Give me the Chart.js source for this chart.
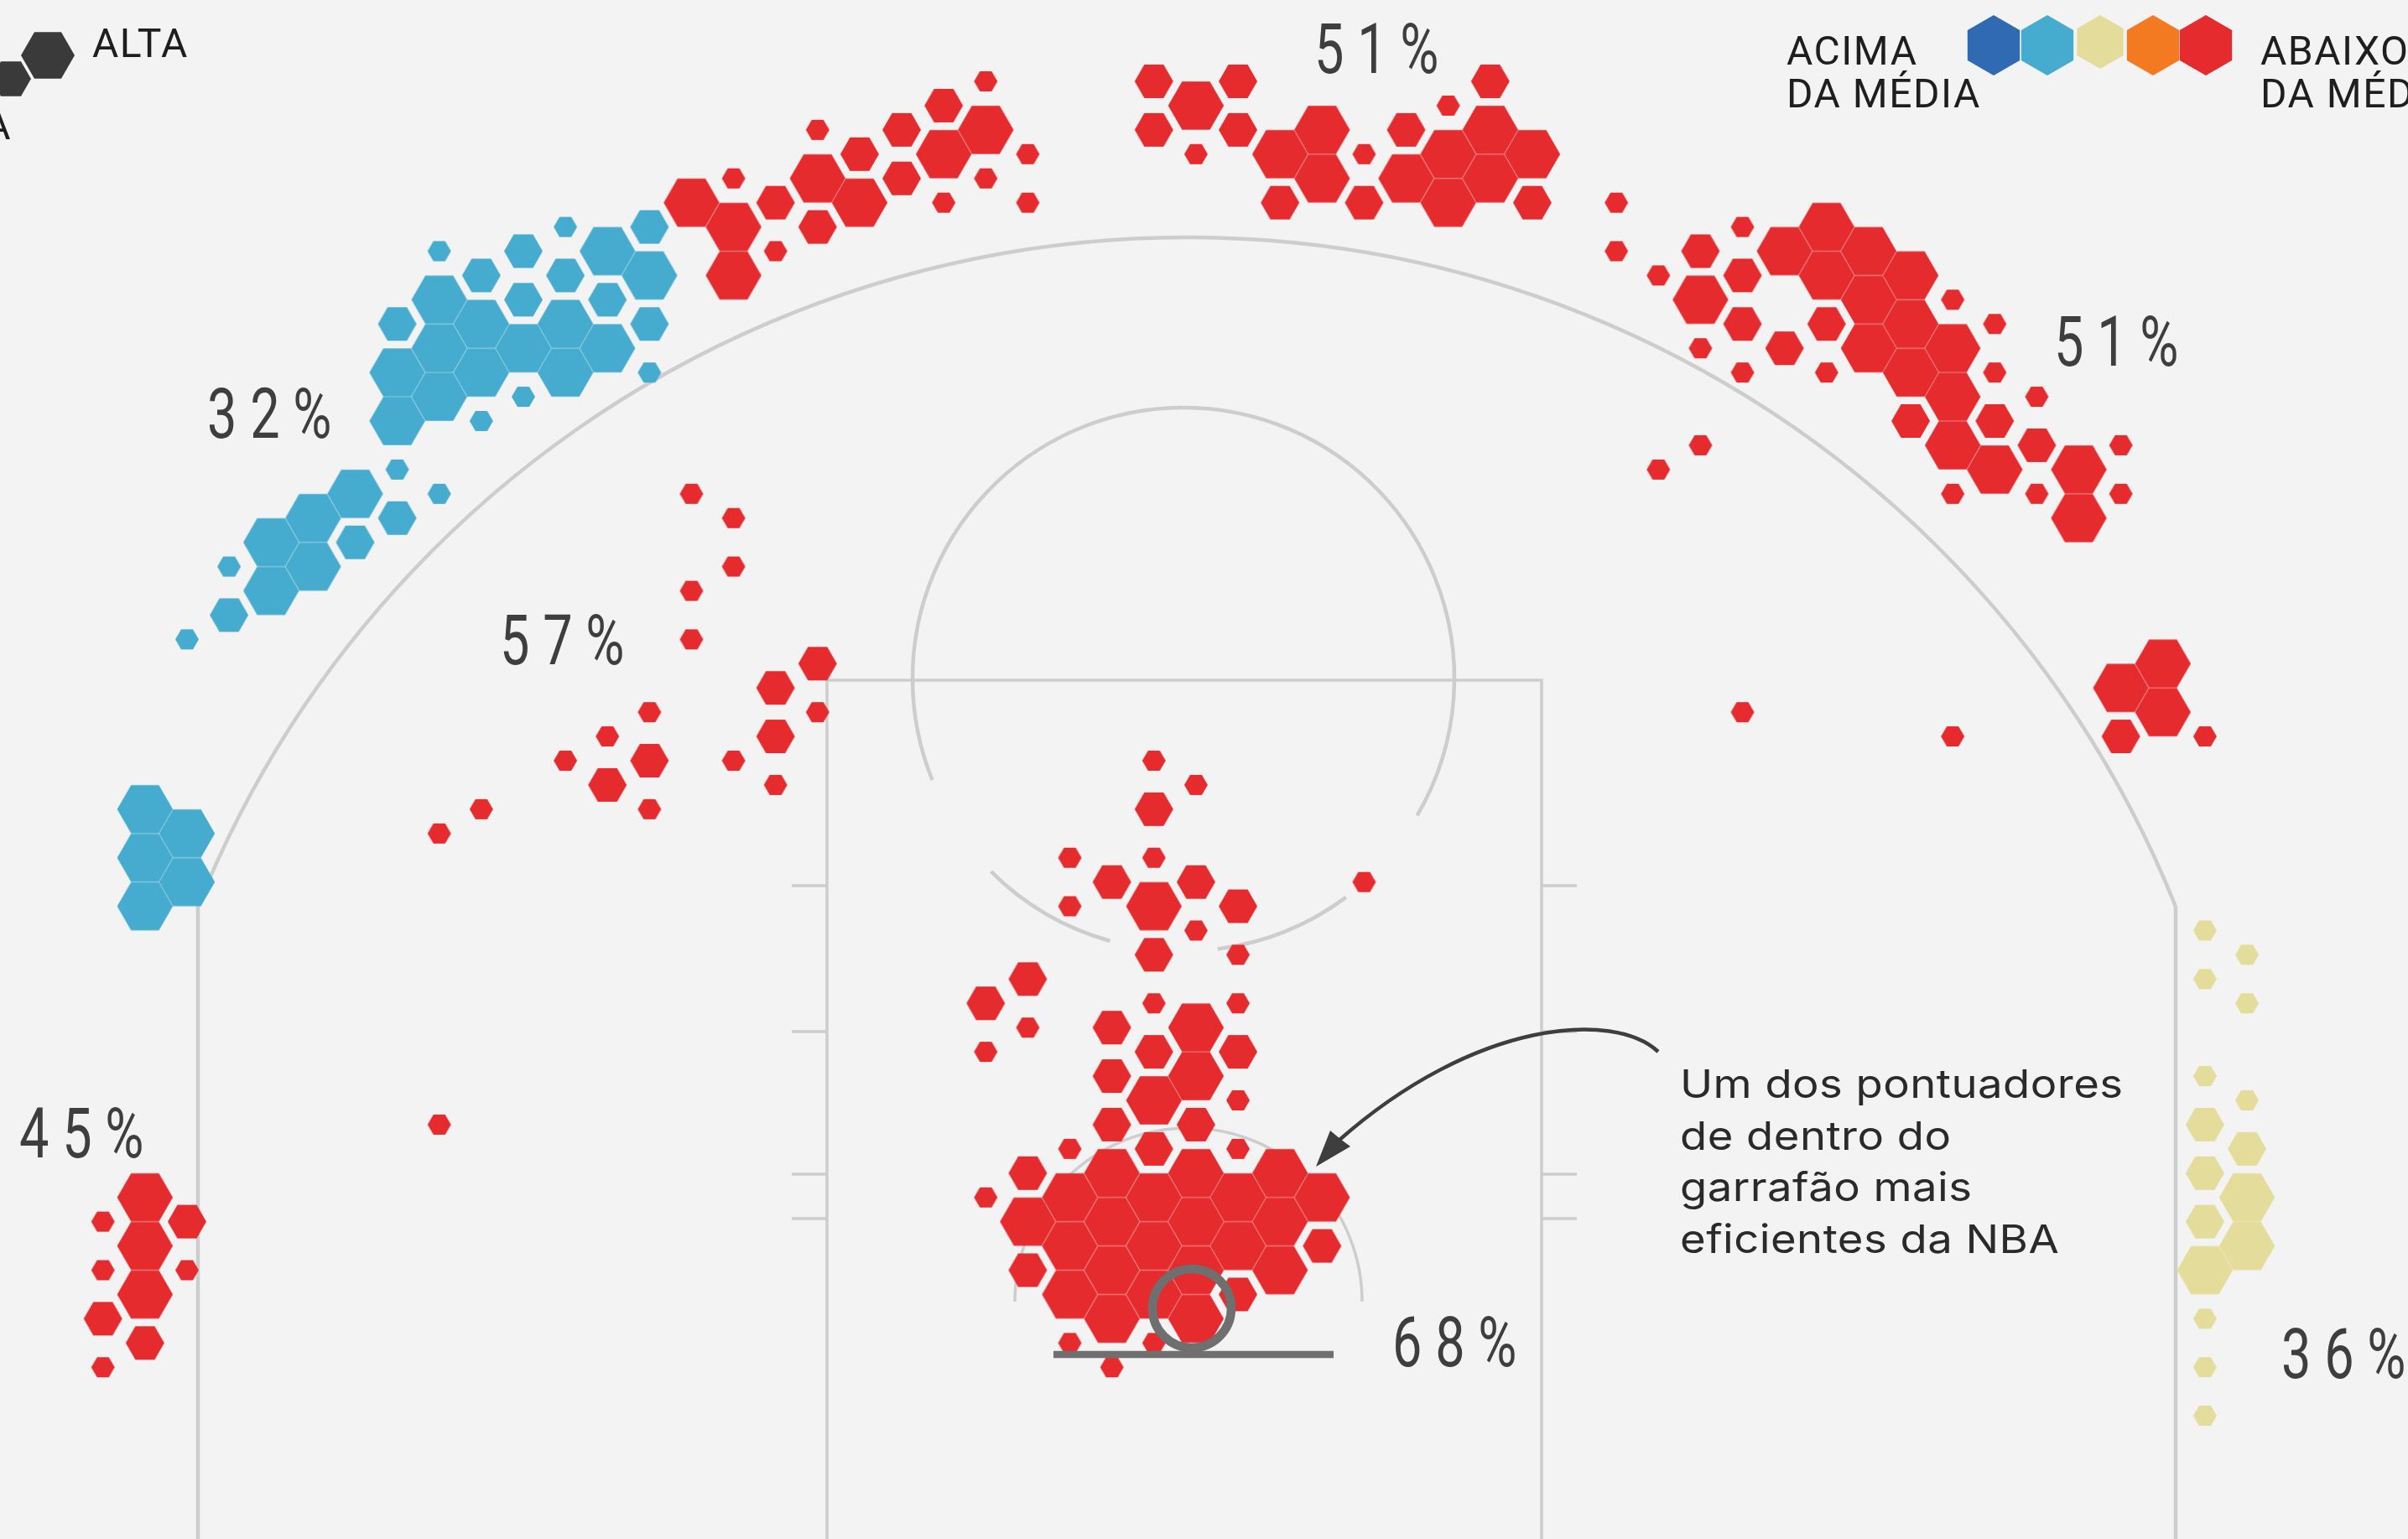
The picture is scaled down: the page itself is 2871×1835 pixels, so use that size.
<!DOCTYPE html>
<html>
<head>
<meta charset="utf-8">
<title>Mapa de arremessos</title>
<style>
  html, body { margin: 0; padding: 0; background: #f3f3f3; overflow: hidden; }
  canvas { display: block; }
</style>
<script src="https://cdn.jsdelivr.net/npm/chart.js@4"></script>
</head>
<body>
<canvas id="shots" width="2871" height="1835"></canvas>
<script>
// ── Data: hexbin column, hexbin row, shot frequency (1 low – 3 high) ──
const redCols = [
  1, 2, 0, 1, 0, 2, 1, 0, 1, 0,
  8, 8, 9,
  14, 15, 15, 14, 14, 17, 16, 17, 16, 15, 16, 13, 12, 11, 13, 12, 13,
  14, 15, 15, 15, 16, 16, 17, 17, 17, 18, 18, 19, 19, 20, 20, 20, 21, 21, 21, 22, 22,
  25, 27, 26, 25, 27, 26, 28, 29, 29, 28, 30, 30, 31, 31, 32, 32, 32, 33, 33, 33, 34, 34,
  36, 36, 37, 38, 38, 39, 39, 39, 38, 39, 40, 40, 41, 41, 41, 41, 42, 42, 42, 43, 43, 43, 43,
  44, 44, 44, 44, 44, 45, 45, 45, 45, 46, 46, 46, 47, 47, 48, 48, 38, 37,
  49, 48, 49, 48, 50, 39, 44,
  25, 26, 25, 23, 25, 24, 26, 23, 25, 27, 26, 25, 27, 30,
  22, 21, 22, 21, 25, 27, 26, 24, 25, 27, 24, 26, 25, 27, 24, 26,
  25, 23, 27, 22, 24, 26, 28, 21, 23, 25, 27, 29, 22, 24, 26, 28,
  23, 25, 27, 29, 22, 24, 26, 28, 23, 25, 27, 24, 26, 23, 25, 24
];
const redRows = [
  46, 47, 47, 48, 49, 49, 50, 51, 52, 53,
  43, 31, 30,
  17, 18, 20, 21, 23, 24, 25, 26, 27, 28, 29, 26, 27, 28, 28, 29, 30,
  5, 4, 6, 8, 5, 7, 2, 4, 6, 3, 5, 2, 4, 1, 3, 5, 0, 2, 4, 3, 5,
  0, 0, 1, 2, 2, 3, 3, 2, 4, 5, 3, 5, 2, 4, 1, 3, 5, 0, 2, 4, 3, 5,
  5, 7, 8, 7, 9, 6, 8, 10, 11, 12, 7, 11, 6, 8, 10, 12, 7, 9, 11, 8, 10, 12, 14,
  9, 11, 13, 15, 17, 10, 12, 14, 16, 13, 15, 17, 16, 18, 15, 17, 15, 16,
  24, 25, 26, 27, 27, 26, 27,
  28, 29, 30, 32, 32, 33, 33, 34, 34, 34, 35, 36, 36, 33,
  37, 38, 39, 40, 38, 38, 39, 39, 40, 40, 41, 41, 42, 42, 43, 43,
  44, 44, 44, 45, 45, 45, 45, 46, 46, 46, 46, 46, 47, 47, 47, 47,
  48, 48, 48, 48, 49, 49, 49, 49, 50, 50, 50, 51, 51, 52, 52, 53
];
const redFreq = [
  3, 2, 1, 3, 1, 1, 3, 2, 2, 1,
  1, 1, 1,
  1, 1, 1, 1, 1, 2, 2, 1, 2, 1, 1, 1, 1, 1, 2, 2, 1,
  3, 1, 3, 3, 2, 1, 1, 3, 2, 2, 3, 2, 2, 2, 3, 1, 1, 3, 1, 1, 1,
  2, 2, 3, 2, 2, 1, 3, 3, 3, 2, 1, 2, 2, 3, 1, 3, 3, 2, 3, 3, 3, 2,
  1, 1, 1, 2, 3, 1, 2, 2, 1, 1, 3, 2, 3, 3, 2, 1, 3, 3, 3, 3, 3, 3, 2,
  1, 3, 3, 3, 1, 1, 1, 2, 3, 1, 2, 1, 3, 3, 1, 1, 1, 1,
  3, 3, 3, 2, 1, 1, 1,
  1, 1, 2, 1, 1, 2, 2, 1, 3, 2, 1, 2, 1, 1,
  2, 2, 1, 1, 1, 1, 3, 2, 2, 2, 2, 3, 3, 1, 2, 2,
  2, 1, 1, 2, 3, 3, 3, 1, 3, 3, 3, 3, 3, 3, 3, 3,
  3, 3, 3, 2, 2, 3, 3, 3, 3, 3, 2, 3, 3, 1, 1, 1
];

const blueCols = [
  8, 10, 11, 12, 13, 13, 9, 11, 8, 10, 12, 7, 9, 11, 13, 8, 10, 12, 7, 9, 11, 13, 8, 10, 7, 9,
  7, 6, 8, 5, 7, 4, 6, 5, 3, 4, 3, 2,
  1, 2, 1, 2, 1
];
const blueRows = [
  7, 7, 6, 7, 6, 8, 8, 8, 9, 9, 9, 10, 10, 10, 10, 11, 11, 11, 12, 12, 12, 12, 13, 13, 14, 14,
  16, 17, 17, 18, 18, 19, 19, 20, 20, 21, 22, 23,
  30, 31, 32, 33, 34
];
const blueFreq = [
  1, 2, 1, 3, 2, 3, 2, 2, 3, 2, 2, 2, 3, 3, 2, 3, 3, 3, 3, 3, 3, 1, 3, 1, 3, 1,
  1, 3, 1, 3, 2, 3, 2, 3, 1, 3, 2, 1,
  3, 3, 3, 3, 3
];

const yellowCols = [50, 51, 50, 51, 50, 51, 50, 51, 50, 51, 50, 51, 50, 50, 50, 50];
const yellowRows = [35, 36, 37, 38, 41, 42, 43, 44, 45, 46, 47, 48, 49, 51, 53, 55];
const yellowFreq = [1, 1, 1, 1, 1, 1, 2, 2, 2, 3, 2, 3, 3, 1, 1, 1];

const zoneLabels = ['32%', '51%', '51%', '57%', '45%', '68%', '36%'];
const noteLines = ['Um dos pontuadores', 'de dentro do', 'garrafão mais', 'eficientes da NBA'];
const scaleColors = ['#2f6ab3', '#45accf', '#e4dc9b', '#f47a21', '#e62b2e'];

// ── Layout and style ─────────────────────────────────────
const RED = '#e62b2e';
const BLUE = '#45accf';
const YELLOW = '#e4dc9b';
const COURT = '#cdcdcd';
const RIM = '#6e6f6e';
const INK = '#3e3e3e';
const freqRadius = { 1: 14, 2: 23, 3: 33.2 };
const zoneLabelPos = [[247, 522], [1567, 87], [2449, 436], [596, 792], [23, 1380], [1660, 1629], [2720, 1643]];
const PCT_FONT = "400 84px Roboto, sans-serif";
const LEGEND_FONT = "400 48px Roboto, sans-serif";
const LEGEND_INK = '#1e1e1e';

// ── Hexagon sprites, used as Chart.js point styles ───────
const spriteCache = {};

function hexPath(ctx, cx, cy, r, pointy) {
  ctx.beginPath();
  for (let k = 0; k < 6; k++) {
    const a = Math.PI / 3 * k + (pointy ? Math.PI / 6 : 0);
    const px = cx + r * Math.cos(a);
    const py = cy + r * Math.sin(a);
    if (k === 0) ctx.moveTo(px, py); else ctx.lineTo(px, py);
  }
  ctx.closePath();
}

function hexSprite(r, color) {
  const key = r + color;
  if (spriteCache[key]) return spriteCache[key];
  const c = document.createElement('canvas');
  c.width = Math.ceil(r) * 2 + 2;
  c.height = Math.ceil(r) * 2 + 2;
  const g = c.getContext('2d');
  g.fillStyle = color;
  hexPath(g, c.width / 2, c.height / 2, r, false);
  g.fill();
  spriteCache[key] = c;
  return c;
}

function hexDataset(label, cols, rows, freq, color) {
  return {
    label,
    data: cols.map((col, i) => ({ x: col, y: rows[i] })),
    pointStyle: ctx => hexSprite(freqRadius[freq[ctx.dataIndex]], color),
    pointRadius: ctx => freqRadius[freq[ctx.dataIndex]],
    pointHoverRadius: ctx => freqRadius[freq[ctx.dataIndex]],
    showLine: false,
    clip: false
  };
}

// squeeze stretches the glyphs sideways, the fonts installed here are not the original ones
function text(ctx, str, x, y, font, color, spacing = 0, align = 'left', squeeze = 1) {
  ctx.save();
  ctx.translate(x, y);
  ctx.scale(squeeze, 1);
  ctx.font = font;
  ctx.fillStyle = color;
  ctx.textAlign = align;
  ctx.textBaseline = 'alphabetic';
  ctx.letterSpacing = spacing + 'px';
  ctx.fillText(str, 0, 0);
  ctx.restore();
}

function arc(ctx, cx, cy, r, from, to, width, color) {
  ctx.beginPath();
  ctx.arc(cx, cy, r, from * Math.PI / 180, to * Math.PI / 180);
  ctx.lineWidth = width;
  ctx.strokeStyle = color;
  ctx.stroke();
}

function segment(ctx, x1, y1, x2, y2, width, color) {
  ctx.beginPath();
  ctx.moveTo(x1, y1);
  ctx.lineTo(x2, y2);
  ctx.lineWidth = width;
  ctx.strokeStyle = color;
  ctx.stroke();
}

// ── Court lines, under the hexagons ──────────────────────
const courtPlugin = {
  id: 'court',
  beforeDatasetsDraw(chart) {
    const ctx = chart.ctx;
    const H = chart.height;
    ctx.save();
    // three point line
    const start = Math.atan2(1080 - 1553, 236 - 1415) * 180 / Math.PI;
    const end = Math.atan2(1080 - 1553, 2594 - 1415) * 180 / Math.PI;
    arc(ctx, 1415, 1553, 1270, start, end, 4.5, COURT);
    segment(ctx, 236, 1080, 236, H, 4.5, COURT);
    segment(ctx, 2594, 1080, 2594, H, 4.5, COURT);
    // paint
    ctx.beginPath();
    ctx.moveTo(986, H);
    ctx.lineTo(986, 811);
    ctx.lineTo(1838, 811);
    ctx.lineTo(1838, H);
    ctx.lineWidth = 3.5;
    ctx.strokeStyle = COURT;
    ctx.stroke();
    [1056, 1230, 1400, 1453].forEach(y => {
      segment(ctx, 944, y, 986, y, 3.5, COURT);
      segment(ctx, 1838, y, 1880, y, 3.5, COURT);
    });
    // free throw circle
    arc(ctx, 1411, 809, 323, 158, 390.4, 4.5, COURT);
    arc(ctx, 1411, 809, 325, 105.6, 134.9, 4.5, COURT);
    arc(ctx, 1411, 809, 325, 53.4, 82.8, 4.5, COURT);
    // restricted area
    arc(ctx, 1417, 1552, 207, 180, 360, 3.5, COURT);
    ctx.restore();
  }
};

// ── Rim, arrow, labels and keys, over the hexagons ───────
const overlayPlugin = {
  id: 'overlay',
  afterDatasetsDraw(chart) {
    const ctx = chart.ctx;
    ctx.save();
    // rim and backboard
    arc(ctx, 1421, 1560, 47, 0, 360, 10.5, RIM);
    segment(ctx, 1256, 1615, 1590, 1615, 8.5, RIM);

    // arrow to the note
    ctx.beginPath();
    ctx.moveTo(1977, 1254);
    ctx.bezierCurveTo(1925, 1205, 1760, 1215, 1596, 1360);
    ctx.lineWidth = 4.5;
    ctx.strokeStyle = INK;
    ctx.stroke();
    ctx.beginPath();
    ctx.moveTo(1569, 1391);
    ctx.lineTo(1586, 1348);
    ctx.lineTo(1598, 1358);
    ctx.lineTo(1610, 1367);
    ctx.closePath();
    ctx.fillStyle = INK;
    ctx.fill();

    noteLines.forEach((line, i) => {
      text(ctx, line, 2003, 1309 + i * 61.5, "400 47px Inter, sans-serif", '#2a2a2a', 0.4, 'left', 1.12);
    });

    zoneLabels.forEach((label, i) => {
      text(ctx, label, zoneLabelPos[i][0], zoneLabelPos[i][1], PCT_FONT, INK, 21, 'left', 0.75);
    });

    // frequency key, cut by the page edge
    ctx.fillStyle = '#3a3a3a';
    hexPath(ctx, 57, 66, 32, false);
    ctx.fill();
    hexPath(ctx, 13, 94, 24, false);
    ctx.fill();
    text(ctx, 'ALTA', 110, 68, LEGEND_FONT, LEGEND_INK, 1.5);
    text(ctx, 'BAIXA', 14, 166, LEGEND_FONT, LEGEND_INK, 1.5, 'right');

    // efficiency key
    const keyX = [2377, 2441, 2504, 2567, 2630];
    scaleColors.forEach((color, i) => {
      const small = i === 2;
      ctx.fillStyle = color;
      hexPath(ctx, keyX[i], small ? 50 : 54, small ? 32 : 36, true);
      ctx.fill();
    });
    text(ctx, 'ACIMA', 2130, 77, LEGEND_FONT, LEGEND_INK, 1.5);
    text(ctx, 'DA MÉDIA', 2130, 128, LEGEND_FONT, LEGEND_INK, 1.5);
    text(ctx, 'ABAIXO', 2695, 77, LEGEND_FONT, LEGEND_INK, 1.5);
    text(ctx, 'DA MÉDIA', 2695, 128, LEGEND_FONT, LEGEND_INK, 1.5);
    ctx.restore();
  }
};

new Chart(document.getElementById('shots'), {
  type: 'scatter',
  data: {
    datasets: [
      hexDataset('Abaixo da média', redCols, redRows, redFreq, RED),
      hexDataset('Acima da média', blueCols, blueRows, blueFreq, BLUE),
      hexDataset('Na média', yellowCols, yellowRows, yellowFreq, YELLOW)
    ]
  },
  options: {
    responsive: false,
    devicePixelRatio: 1,
    animation: false,
    events: [],
    layout: { padding: 0, autoPadding: false },
    plugins: {
      legend: { display: false },
      tooltip: { enabled: false }
    },
    scales: {
      x: { type: 'linear', display: false, min: -2.448, max: 54.83 },
      y: { type: 'linear', display: false, reverse: true, min: -3.353, max: 60.08 }
    }
  },
  plugins: [courtPlugin, overlayPlugin]
});
</script>
</body>
</html>
